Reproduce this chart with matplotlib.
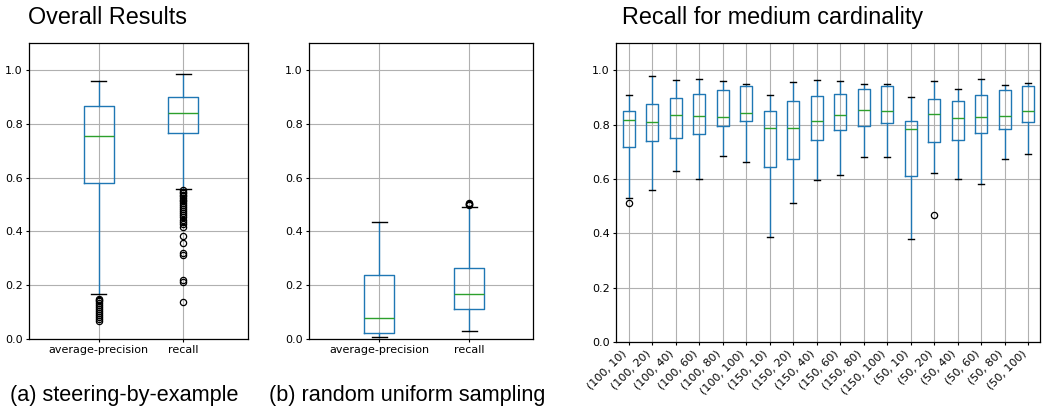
import matplotlib
matplotlib.use('Agg')
from matplotlib import pyplot as plt

# ---- data (box statistics) ----
overall_labels = ['average-precision', 'recall']
overall_q1 = [0.578, 0.764]
overall_med = [0.755, 0.841]
overall_q3 = [0.865, 0.901]
overall_lo = [0.166, 0.556]
overall_hi = [0.960, 0.985]
overall_fliers = [
    [0.150, 0.145, 0.140, 0.135, 0.128, 0.120, 0.112, 0.105, 0.098, 0.090, 0.082, 0.075, 0.068],
    [0.553, 0.548, 0.542, 0.536, 0.530, 0.524, 0.518, 0.511, 0.504, 0.497, 0.490, 0.483,
     0.476, 0.468, 0.460, 0.452, 0.444, 0.436, 0.428, 0.418, 0.382, 0.357, 0.318, 0.311,
     0.219, 0.211, 0.138],
]

random_labels = ['average-precision', 'recall']
random_q1 = [0.023, 0.111]
random_med = [0.077, 0.169]
random_q3 = [0.239, 0.262]
random_lo = [0.009, 0.031]
random_hi = [0.433, 0.491]
random_fliers = [[], [0.497, 0.500, 0.503, 0.506]]

medium_labels = ['(100, 10)', '(100, 20)', '(100, 40)', '(100, 60)', '(100, 80)', '(100, 100)',
                 '(150, 10)', '(150, 20)', '(150, 40)', '(150, 60)', '(150, 80)', '(150, 100)',
                 '(50, 10)', '(50, 20)', '(50, 40)', '(50, 60)', '(50, 80)', '(50, 100)']
medium_q1 = [0.716, 0.741, 0.752, 0.765, 0.795, 0.813, 0.643, 0.673, 0.743,
             0.780, 0.795, 0.805, 0.612, 0.735, 0.743, 0.768, 0.783, 0.810]
medium_med = [0.817, 0.808, 0.834, 0.832, 0.827, 0.841, 0.786, 0.789, 0.813,
              0.834, 0.855, 0.848, 0.783, 0.840, 0.823, 0.829, 0.832, 0.848]
medium_q3 = [0.850, 0.875, 0.897, 0.912, 0.926, 0.942, 0.849, 0.886, 0.905,
             0.913, 0.932, 0.941, 0.812, 0.894, 0.886, 0.909, 0.926, 0.940]
medium_lo = [0.528, 0.561, 0.628, 0.601, 0.683, 0.662, 0.385, 0.513, 0.597,
             0.613, 0.681, 0.682, 0.380, 0.623, 0.598, 0.581, 0.673, 0.690]
medium_hi = [0.909, 0.979, 0.964, 0.967, 0.959, 0.951, 0.910, 0.958, 0.963,
             0.962, 0.951, 0.948, 0.900, 0.961, 0.930, 0.967, 0.945, 0.953]
medium_fliers = [[0.513], [], [], [], [], [], [], [], [], [], [], [], [], [0.469], [], [], [], []]

BLUE = '#1f77b4'
GREEN = '#2ca02c'
TICK_FS = 8


def make_stats(labels, q1, med, q3, lo, hi, fliers):
    return [dict(label=l, q1=a, med=m, q3=b, whislo=w0, whishi=w1, fliers=f)
            for l, a, m, b, w0, w1, f in zip(labels, q1, med, q3, lo, hi, fliers)]


def draw(ax, stats, positions, width, xlim, rot=0):
    ax.bxp(stats, positions=positions, widths=width, showfliers=True,
           boxprops=dict(color=BLUE, linewidth=1.0),
           whiskerprops=dict(color=BLUE, linewidth=1.0),
           capprops=dict(color='black', linewidth=1.0),
           medianprops=dict(color=GREEN, linewidth=1.0),
           flierprops=dict(marker='o', markerfacecolor='none', markeredgecolor='black',
                           markersize=4.5, markeredgewidth=0.9))
    ax.set_xlim(*xlim)
    ax.set_ylim(0, 1.1)
    ax.set_yticks([0.0, 0.2, 0.4, 0.6, 0.8, 1.0])
    ax.grid(True, color='#b0b0b0', linewidth=0.8)
    ax.set_axisbelow(True)
    ax.tick_params(labelsize=TICK_FS, length=2.5, width=0.8, pad=2)
    if rot:
        plt.setp(ax.get_xticklabels(), rotation=rot, ha='right')
    for s in ax.spines.values():
        s.set_linewidth(0.9)


fig = plt.figure(figsize=(10.45, 4.09), dpi=100)
W, H = 1045.0, 409.0

ax1 = fig.add_axes([29 / W, 1 - 339 / H, 219 / W, 296 / H])
draw(ax1, make_stats(overall_labels, overall_q1, overall_med, overall_q3,
                     overall_lo, overall_hi, overall_fliers),
     [1, 2], 0.36, (0.17, 2.77))

ax2 = fig.add_axes([309 / W, 1 - 339 / H, 224 / W, 296 / H])
draw(ax2, make_stats(random_labels, random_q1, random_med, random_q3,
                     random_lo, random_hi, random_fliers),
     [1, 2], 0.335, (0.216, 2.71))

ax3 = fig.add_axes([616 / W, 1 - 342 / H, 424 / W, 299 / H])
draw(ax3, make_stats(medium_labels, medium_q1, medium_med, medium_q3,
                     medium_lo, medium_hi, medium_fliers),
     list(range(1, 19)), 0.5, (0.46, 18.5), rot=45)

title_font = dict(family=['Liberation Sans', 'DejaVu Sans'], fontsize=16.8, va='baseline')
cap_font = dict(family=['Liberation Sans', 'DejaVu Sans'], fontsize=15.6, va='baseline')
fig.text(28 / W, 1 - 24 / H, 'Overall Results', **title_font)
fig.text(622 / W, 1 - 24 / H, 'Recall for medium cardinality', **title_font)
fig.text(10 / W, 1 - 401 / H, '(a) steering-by-example', **cap_font)
fig.text(269 / W, 1 - 401 / H, '(b) random uniform sampling', **cap_font)

fig.savefig('out.png', dpi=100)
